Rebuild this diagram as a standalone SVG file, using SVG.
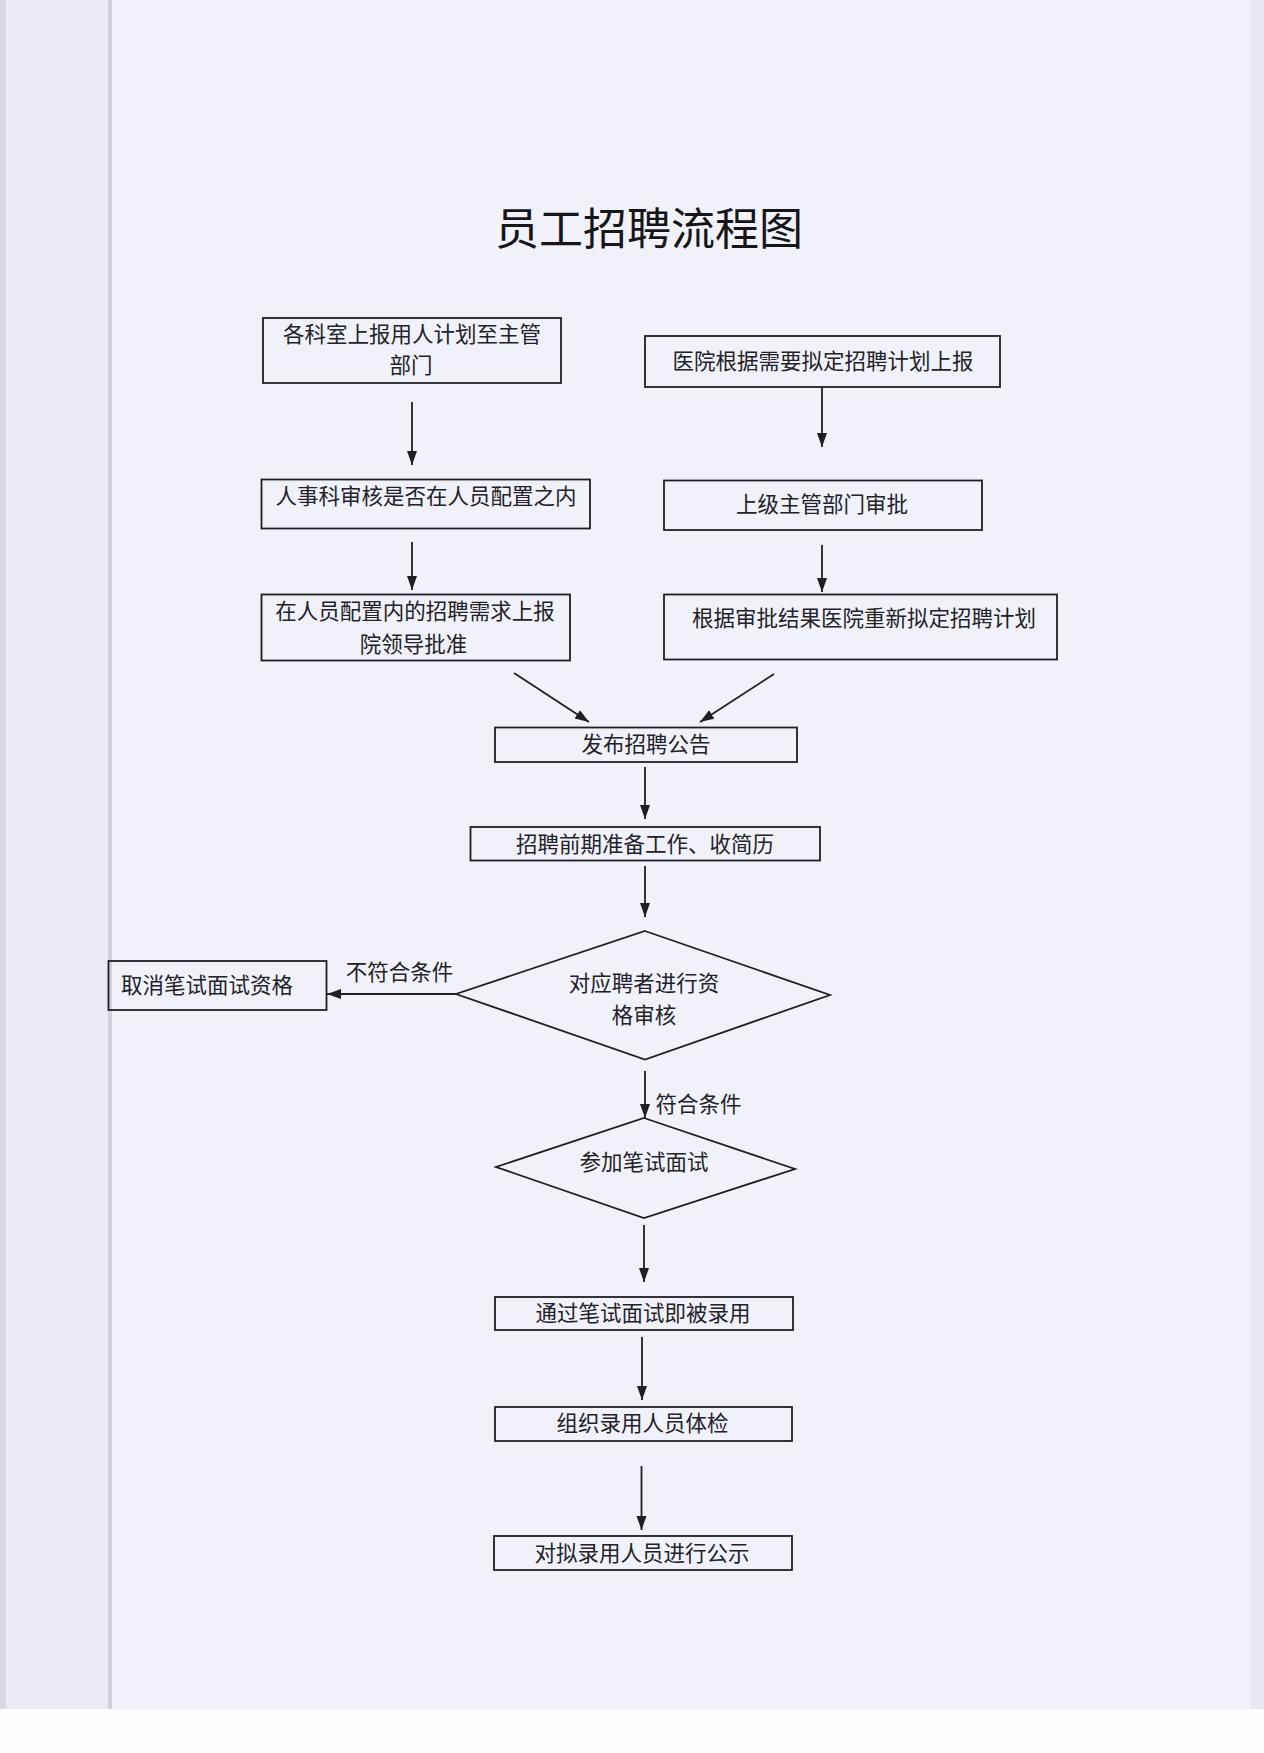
<svg xmlns="http://www.w3.org/2000/svg" width="1264" height="1753" viewBox="0 0 1264 1753">
<defs>
<style>
.box{fill:none;stroke:#1e1e24;stroke-width:1.8}
.t{font-family:"Noto Sans CJK SC","Noto Sans",sans-serif;font-size:21.5px;fill:#222228;text-anchor:middle}
.title{font-family:"Noto Sans CJK SC","Noto Sans",sans-serif;font-size:44px;font-weight:400;fill:#161618;text-anchor:middle}
.ln{fill:none;stroke:#1e1e24;stroke-width:1.8}
</style>
<marker id="ah" markerUnits="userSpaceOnUse" markerWidth="15" markerHeight="11" refX="14" refY="5" orient="auto">
<path d="M0,0 L14,5 L0,10 z" fill="#1e1e24"/>
</marker>
</defs>
<rect x="0" y="0" width="1264" height="1753" fill="#f1f1fa"/>
<rect x="0" y="0" width="112" height="1709" fill="#eaeaf2"/>
<rect x="0" y="0" width="6" height="1709" fill="#d8d8e0"/>
<line x1="110" y1="0" x2="110" y2="1709" stroke="#d2d2dc" stroke-width="4"/>
<rect x="1250" y="0" width="14" height="1709" fill="#e8e8f0"/>
<rect x="0" y="1709" width="1264" height="44" fill="#fdfdff"/>

<text class="title" x="649" y="245">员工招聘流程图</text>

<g id="n1"><rect class="box" x="263" y="318" width="298" height="65"/><text class="t" x="412" y="342">各科室上报用人计划至主管</text><text class="t" x="411" y="373">部门</text></g>
<g id="n2"><rect class="box" x="645" y="336" width="355" height="51"/><text class="t" x="823" y="369">医院根据需要拟定招聘计划上报</text></g>
<g id="n3"><rect class="box" x="261.5" y="479.5" width="328.5" height="49"/><text class="t" x="426" y="504">人事科审核是否在人员配置之内</text></g>
<g id="n4"><rect class="box" x="664" y="480.5" width="318" height="49.5"/><text class="t" x="822" y="512">上级主管部门审批</text></g>
<g id="n5"><rect class="box" x="261.5" y="594.5" width="308.5" height="66"/><text class="t" x="415" y="619">在人员配置内的招聘需求上报</text><text class="t" x="413.5" y="652">院领导批准</text></g>
<g id="n6"><rect class="box" x="664" y="594.5" width="393" height="65"/><text class="t" x="864" y="626">根据审批结果医院重新拟定招聘计划</text></g>
<g id="n7"><rect class="box" x="495" y="727.5" width="302" height="34.5"/><text class="t" x="646" y="752">发布招聘公告</text></g>
<g id="n8"><rect class="box" x="470.5" y="827" width="349.5" height="33.5"/><text class="t" x="645" y="852">招聘前期准备工作、收简历</text></g>
<g id="n9"><polygon class="box" points="645,931 830,995 645,1059.5 456,994"/><text class="t" x="644" y="991">对应聘者进行资</text><text class="t" x="644" y="1023">格审核</text></g>
<g id="n10"><rect class="box" x="108.5" y="961" width="218" height="49"/><text class="t" x="207" y="993">取消笔试面试资格</text></g>
<g id="n11"><polygon class="box" points="644,1118 795,1169 644,1218 496,1167"/><text class="t" x="644" y="1170">参加笔试面试</text></g>
<g id="n12"><rect class="box" x="495" y="1297" width="298" height="33"/><text class="t" x="643" y="1321">通过笔试面试即被录用</text></g>
<g id="n13"><rect class="box" x="495" y="1407" width="297" height="34"/><text class="t" x="642.5" y="1431">组织录用人员体检</text></g>
<g id="n14"><rect class="box" x="494" y="1536" width="298" height="34"/><text class="t" x="642" y="1561">对拟录用人员进行公示</text></g>

<g id="connectors">
<line class="ln" x1="412" y1="402" x2="412" y2="465" marker-end="url(#ah)"/>
<line class="ln" x1="822" y1="387" x2="822" y2="447" marker-end="url(#ah)"/>
<line class="ln" x1="412" y1="542" x2="412" y2="590" marker-end="url(#ah)"/>
<line class="ln" x1="822" y1="545" x2="822" y2="592" marker-end="url(#ah)"/>
<line class="ln" x1="514" y1="673" x2="589" y2="722" marker-end="url(#ah)"/>
<line class="ln" x1="774" y1="674" x2="700" y2="722" marker-end="url(#ah)"/>
<line class="ln" x1="645" y1="767" x2="645" y2="819" marker-end="url(#ah)"/>
<line class="ln" x1="645" y1="866" x2="645" y2="917" marker-end="url(#ah)"/>
<line class="ln" x1="456" y1="994" x2="327" y2="994" marker-end="url(#ah)"/>
<line class="ln" x1="645" y1="1071" x2="645" y2="1118" marker-end="url(#ah)"/>
<line class="ln" x1="644" y1="1225" x2="644" y2="1282" marker-end="url(#ah)"/>
<line class="ln" x1="642" y1="1337" x2="642" y2="1400" marker-end="url(#ah)"/>
<line class="ln" x1="641.5" y1="1466" x2="641.5" y2="1530" marker-end="url(#ah)"/>
<text class="t" x="399.5" y="980">不符合条件</text>
<text class="t" x="698.5" y="1112">符合条件</text>
</g>
</svg>
